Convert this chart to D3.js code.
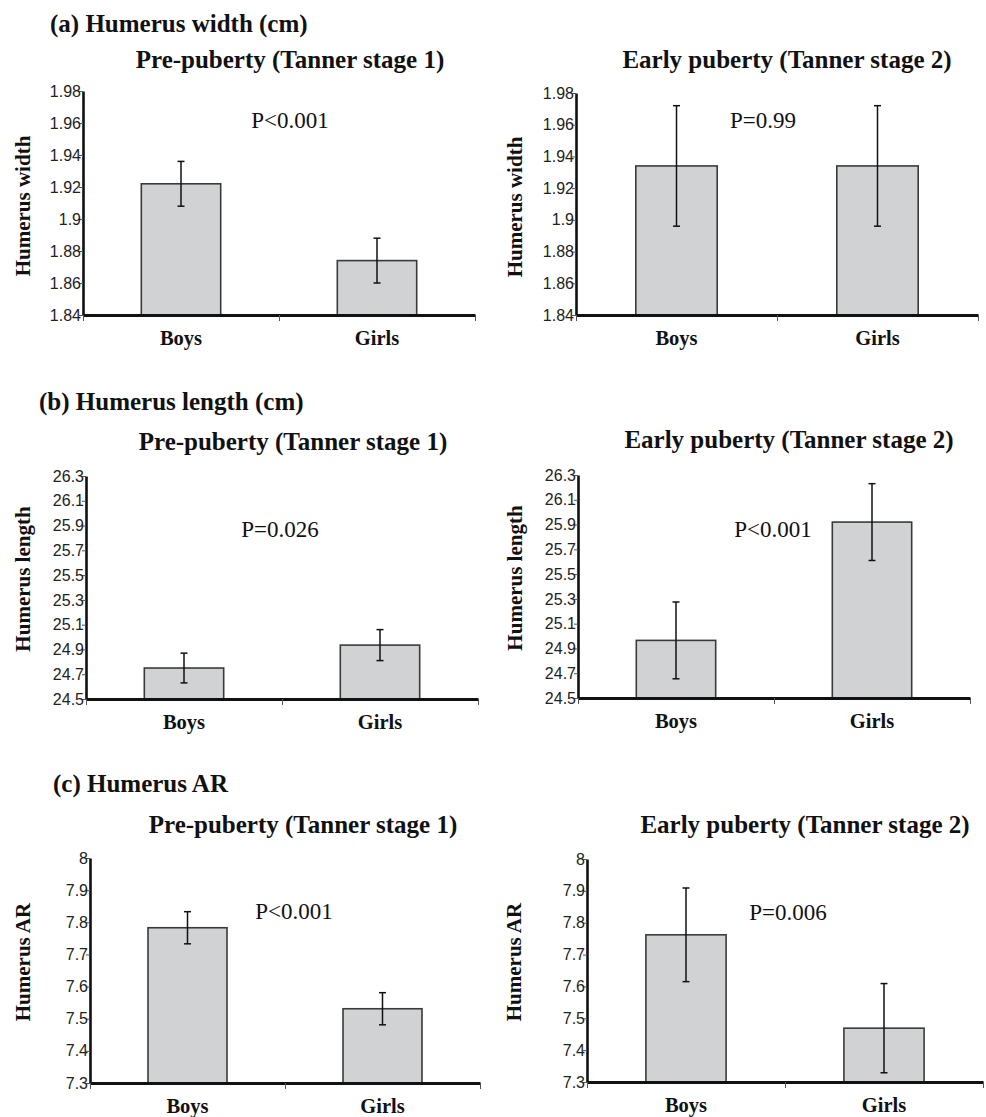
<!DOCTYPE html>
<html>
<head>
<meta charset="utf-8">
<script src="https://cdn.jsdelivr.net/npm/d3@7"></script>
<style>
  body { margin: 0; background: #fff; }
  .serif { font-family: "Liberation Serif", "Times New Roman", serif; }
  .tick text { font-family: "Liberation Sans", Arial, sans-serif; font-size: 16px; fill: #222; }
</style>
</head>
<body>
<div id="chart"></div>
<script>
// data
var groups = ["Boys", "Girls"];
var stages = ["Pre-puberty (Tanner stage 1)", "Early puberty (Tanner stage 2)"];
var sections = ["(a) Humerus width (cm)", "(b) Humerus length (cm)", "(c) Humerus AR"];
var yTitles = ["Humerus width", "Humerus length", "Humerus AR"];

// [stage][group]
var widthMean = [[1.922, 1.874], [1.934, 1.934]];
var widthErr = [[0.014, 0.014], [0.038, 0.038]];
var lengthMean = [[24.75, 24.935], [24.965, 25.92]];
var lengthErr = [[0.12, 0.125], [0.31, 0.31]];
var arMean = [[7.783, 7.531], [7.762, 7.469]];
var arErr = [[0.05, 0.05], [0.147, 0.14]];

var pValues = [["P<0.001", "P=0.99"], ["P=0.026", "P<0.001"], ["P<0.001", "P=0.006"]];

var widthTicks = [1.84, 1.86, 1.88, 1.9, 1.92, 1.94, 1.96, 1.98];
var lengthTicks = [24.5, 24.7, 24.9, 25.1, 25.3, 25.5, 25.7, 25.9, 26.1, 26.3];
var arTicks = [7.3, 7.4, 7.5, 7.6, 7.7, 7.8, 7.9, 8];

var means = [widthMean, lengthMean, arMean];
var errs = [widthErr, lengthErr, arErr];
var tickSets = [widthTicks, lengthTicks, arTicks];

// layout (pixels)
var sectionPos = [{x: 50, y: 32}, {x: 39, y: 410}, {x: 53, y: 792}];
var panels = [
  // row a
  [{x0: 83, x1: 475, top: 91, bottom: 315, sub: [290, 68], p: [290, 128], yt: [23, 206]},
   {x0: 576, x1: 978, top: 93, bottom: 315, sub: [787, 68], p: [763, 128], yt: [515, 207]}],
  // row b
  [{x0: 86, x1: 478, top: 476, bottom: 699, sub: [293, 450], p: [280, 537], yt: [23, 579]},
   {x0: 578, x1: 970, top: 475, bottom: 698, sub: [789, 448], p: [773, 537], yt: [515, 578]}],
  // row c
  [{x0: 90, x1: 480, top: 858, bottom: 1083, sub: [303, 833], p: [294, 919], yt: [23, 962]},
   {x0: 587, x1: 983, top: 859, bottom: 1082, sub: [805, 833], p: [788, 920], yt: [514, 962]}]
];

var svg = d3.select("#chart")
  .append("svg")
  .attr("width", 986)
  .attr("height", 1117);

sections.forEach(function(title, r) {
  svg.append("text")
    .attr("class", "serif")
    .attr("x", sectionPos[r].x)
    .attr("y", sectionPos[r].y)
    .attr("font-size", 25)
    .attr("font-weight", "bold")
    .attr("fill", "#111")
    .text(title);

  panels[r].forEach(function(pn, s) {
    var w = pn.x1 - pn.x0;
    var h = pn.bottom - pn.top;
    var ticks = tickSets[r];

    var y = d3.scaleLinear()
      .domain([ticks[0], ticks[ticks.length - 1]])
      .range([h, 0]);

    var x = d3.scaleBand()
      .domain(groups)
      .range([0, w])
      .padding(0);

    var xEdge = d3.scaleLinear().domain([0, groups.length]).range([0, w]);

    var g = svg.append("g")
      .attr("transform", `translate(${pn.x0}, ${pn.top})`);

    // subtitle
    svg.append("text")
      .attr("class", "serif")
      .attr("x", pn.sub[0])
      .attr("y", pn.sub[1])
      .attr("text-anchor", "middle")
      .attr("font-size", 25)
      .attr("font-weight", "bold")
      .attr("fill", "#111")
      .text(stages[s]);

    // y title
    svg.append("text")
      .attr("class", "serif")
      .attr("transform", `translate(${pn.yt[0] + 7}, ${pn.yt[1]}) rotate(-90)`)
      .attr("text-anchor", "middle")
      .attr("font-size", 21)
      .attr("font-weight", "bold")
      .attr("fill", "#111")
      .text(yTitles[r]);

    // bars
    var rows = groups.map(function(grp, i) {
      return {group: grp, mean: means[r][s][i], err: errs[r][s][i]};
    });
    var bw = x.bandwidth() * 0.405;

    g.selectAll("rect.bar")
      .data(rows)
      .enter()
      .append("rect")
      .attr("class", "bar")
      .attr("x", d => x(d.group) + (x.bandwidth() - bw) / 2)
      .attr("y", d => y(d.mean))
      .attr("width", bw)
      .attr("height", d => h - y(d.mean))
      .attr("fill", "#d1d2d4")
      .attr("stroke", "#3a3a3a")
      .attr("stroke-width", 1.6);

    // error bars
    var eb = g.selectAll("g.err")
      .data(rows)
      .enter()
      .append("g")
      .attr("class", "err")
      .attr("stroke", "#111")
      .attr("stroke-width", 1.5);
    eb.append("line")
      .attr("x1", d => x(d.group) + x.bandwidth() / 2)
      .attr("x2", d => x(d.group) + x.bandwidth() / 2)
      .attr("y1", d => y(d.mean + d.err))
      .attr("y2", d => y(d.mean - d.err));
    eb.selectAll("line.cap")
      .data(d => [d.mean + d.err, d.mean - d.err].map(v => ({group: d.group, v: v})))
      .enter()
      .append("line")
      .attr("class", "cap")
      .attr("x1", d => x(d.group) + x.bandwidth() / 2 - 3.5)
      .attr("x2", d => x(d.group) + x.bandwidth() / 2 + 3.5)
      .attr("y1", d => y(d.v))
      .attr("y2", d => y(d.v));

    // y axis
    var yAxis = g.append("g")
      .call(d3.axisLeft(y).tickValues(ticks).tickSize(4).tickSizeOuter(0).tickPadding(-2).tickFormat(d => String(d)));
    yAxis.select(".domain").attr("stroke", "#111").attr("stroke-width", 2.6);
    yAxis.selectAll(".tick line").attr("stroke", "#555").attr("stroke-width", 1);
    yAxis.selectAll(".tick text").attr("dx", "0");

    // x axis
    var xAxis = g.append("g")
      .attr("transform", `translate(0, ${h})`)
      .call(d3.axisBottom(xEdge).tickValues(d3.range(groups.length + 1)).tickSize(6).tickSizeOuter(0).tickFormat(""));
    xAxis.select(".domain").attr("stroke", "#111").attr("stroke-width", 3);
    xAxis.selectAll(".tick line").attr("stroke", "#555").attr("stroke-width", 1);

    // category labels
    g.selectAll("text.cat")
      .data(groups)
      .enter()
      .append("text")
      .attr("class", "cat serif")
      .attr("x", d => x(d) + x.bandwidth() / 2)
      .attr("y", h + 30)
      .attr("text-anchor", "middle")
      .attr("font-size", 20.5)
      .attr("font-weight", "bold")
      .attr("fill", "#111")
      .text(d => d);

    // p value
    svg.append("text")
      .attr("class", "serif")
      .attr("x", pn.p[0])
      .attr("y", pn.p[1])
      .attr("text-anchor", "middle")
      .attr("font-size", 23)
      .attr("fill", "#111")
      .text(pValues[r][s]);
  });
});
</script>
</body>
</html>
